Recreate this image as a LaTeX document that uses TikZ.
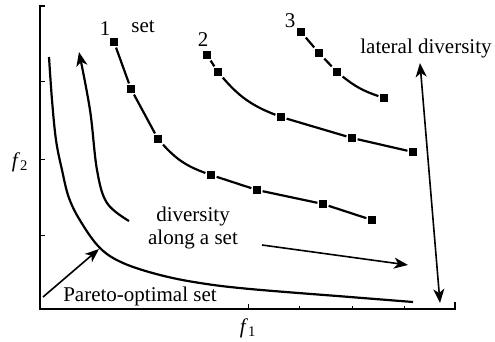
\documentclass[tikz,border=0pt]{standalone}
\usepackage{fontspec}
\setmainfont{Liberation Serif}
\usetikzlibrary{arrows.meta}

\tikzset{
  pt/.style={fill,minimum size=8pt,inner sep=0pt,outer sep=1.6pt},
  lbl/.style={inner sep=1pt,font=\fontsize{21}{23}\selectfont},
  arr/.style={-{Stealth[length=14pt,width=11pt,inset=4pt]}},
}

\begin{document}
\begin{tikzpicture}[x=1pt,y=-1pt,line width=2.2pt]
\path[use as bounding box] (0,0) rectangle (495,342);
% axes
\draw[line width=1.8pt] (45,6) -- (40,6) -- (40,309) -- (455,309) -- (455,302);
\draw[line width=1pt] (40,82) -- (45,82);
\draw[line width=1pt] (40,159) -- (45,159);
\draw[line width=1pt] (40,235) -- (45,235);
\draw[line width=1pt] (248,309) -- (248,304);
\draw[line width=.8pt] (299,309) -- (299,306);
\draw[line width=.8pt] (352,309) -- (352,306);
\draw[line width=.8pt] (404,309) -- (404,306);
\node[lbl] (ftwo) at (20,162) {\textit{f}\textsubscript{2}};
\node[lbl] (fone) at (248,328) {\textit{f}\textsubscript{1}};
% set 1
\node[pt] (a1) at (114,42) {};
\node[pt] (a2) at (131,89) {};
\node[pt] (a3) at (158,139) {};
\node[pt] (a4) at (211,175) {};
\node[pt] (a5) at (257,190) {};
\node[pt] (a6) at (323,204) {};
\node[pt] (a7) at (372,220) {};
\draw (a1) -- (a2) -- (a3);
\draw (a3) to[bend right=14] (a4);
\draw (a4) -- (a5) -- (a6) -- (a7);
% set 2
\node[pt] (b1) at (207,55) {};
\node[pt] (b2) at (218,72) {};
\node[pt] (b3) at (281,117) {};
\node[pt] (b4) at (352,138) {};
\node[pt] (b5) at (413,152) {};
\draw (b1) -- (b2);
\draw (b2) to[bend right=14] (b3);
\draw (b3) -- (b4) -- (b5);
% set 3
\node[pt] (c1) at (301,32) {};
\node[pt] (c2) at (319,53) {};
\node[pt] (c3) at (337,72) {};
\node[pt] (c4) at (384,98) {};
\draw (c1) -- (c2) -- (c3);
\draw (c3) to[bend right=10] (c4);
% labels
\node[lbl] (one) at (105,29) {1};
\node[lbl] (set) at (143,27) {set};
\node[lbl] (two) at (203,40) {2};
\node[lbl] (three) at (290,21) {3};
\node[lbl] (lat) at (426,48) {lateral diversity};
\node[lbl,align=center] (along) at (193,228) {diversity\\along a set};
\node[lbl] (pareto) at (140,296) {Pareto-optimal set};
% pareto-optimal front
\draw plot[smooth,tension=.6] coordinates {(49,57) (52,100) (56,140) (62,170) (69,198) (81,222) (100,248) (123,263) (160,275) (200,283) (250,289) (350,297) (413,302)};
\coordinate (pf) at (99,249);
\coordinate (pa) at (43,297);
\draw[arr,line width=1.6pt] (pa) -- (pf);
% diversity arrows
\draw[arr] plot[smooth,tension=.6] coordinates {(129,221) (107,203) (97,170) (90,110) (79,52)};
\coordinate (ds) at (262,245);
\coordinate (de) at (408,265);
\draw[arr,line width=1.6pt] (ds) -- (de);
\coordinate (lt) at (420,63);
\coordinate (lb) at (440,303);
\draw[{Stealth[length=14pt,width=11pt,inset=4pt]}-{Stealth[length=14pt,width=11pt,inset=4pt]},line width=1.6pt] (lt) -- (lb);
\end{tikzpicture}
\end{document}
